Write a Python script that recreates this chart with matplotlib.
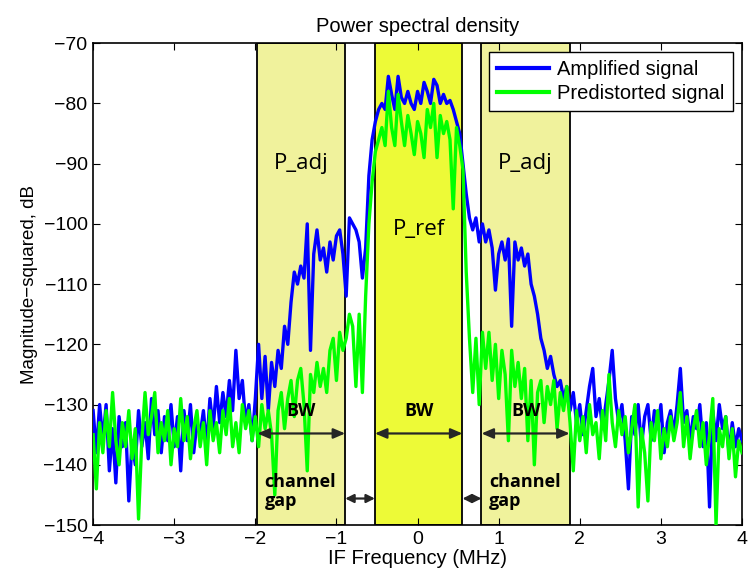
import numpy as np
import matplotlib
matplotlib.use("Agg")
import matplotlib.pyplot as plt

plt.rcParams["font.family"] = ["Liberation Sans", "DejaVu Sans"]
ann_font = ["Open Sans", "DejaVu Sans"]

# power spectral density, 0.04 MHz step from -4 to 4 MHz
amplified_db = [
    -131, -138, -130, -136, -130, -141, -134, -143, -132, -137,
    -133, -146, -136, -140, -131, -137, -133, -139, -129, -135,
    -131, -138, -132, -136, -130, -137, -132, -141, -131, -136,
    -130, -138, -133, -135, -131, -137, -129, -134, -127, -133,
    -128, -132, -126, -131, -121, -129, -126, -133, -130, -136,
    -129,
    -120, -129, -122, -131, -123, -127, -121, -124, -117, -120,
    -113, -108, -110, -107, -109, -100, -121, -105, -101, -106,
    -104, -108, -103, -106, -102, -101, -105, -112, -99, -100,
    -101, -103, -109, -104, -92, -86, -83, -81, -80, -81,
    -75.5, -78.5, -81, -75.5, -79, -80, -78, -80, -81, -78,
    -80, -76.5, -78, -80, -76, -77, -80, -78.5, -80, -79.5,
    -81, -83, -85, -90, -95, -99, -101, -99, -103, -100,
    -103, -101, -104, -111, -105, -103, -106, -102.5, -117, -103,
    -106, -104, -107, -105, -110, -112, -115, -119, -121, -124,
    -122, -125, -127, -126, -129, -127, -131, -128, -133, -130,
    -135, -131, -127, -124, -132, -129, -134, -130, -126, -121,
    -129, -133, -130, -136, -144, -132, -135, -130, -137, -132,
    -130, -136, -131, -134, -130, -138, -133, -131, -135, -130,
    -124, -133, -131, -136, -132, -134, -130, -137, -133, -147,
    -131, -136, -130, -134, -132, -138, -133, -137, -134, -136,
]
predistorted_db = [
    -135, -144, -133, -138, -131, -137, -128, -136, -140, -133,
    -137, -131, -139, -134, -149, -136, -128, -135, -132, -128,
    -138, -133, -136, -131, -140, -134, -137, -129, -136, -132,
    -139, -134, -131, -137, -133, -140, -131, -136, -133, -138,
    -131, -135, -129, -137, -133, -138, -130, -134, -131, -136,
    -132,
    -137, -130, -134, -131, -135, -145, -131, -128, -134, -129,
    -126, -132, -126, -124, -130, -141, -125, -128, -123, -127,
    -124, -128, -121, -119, -126, -118, -121, -119, -115, -117,
    -127, -115, -128, -112, -100, -93, -88, -86, -84, -87,
    -78, -84, -87, -78.5, -83, -87, -82, -85, -88.5, -83,
    -85, -89, -81, -84, -80, -89, -82, -85, -83, -86,
    -97.5, -84, -87, -91, -108, -119, -128, -119, -130, -118,
    -124, -118, -126, -120, -129, -121, -125, -136, -121, -127,
    -123, -129, -124, -136, -126, -140, -128, -126, -133, -127,
    -130, -126, -134, -128, -131, -127, -133, -141, -131, -136,
    -132, -138, -130, -135, -133, -139, -131, -136, -125, -133,
    -137, -131, -135, -132, -138, -134, -130, -147, -134, -138,
    -146, -133, -136, -131, -139, -134, -137, -132, -136, -133,
    -128, -137, -132, -139, -134, -131, -137, -133, -140, -135,
    -129, -150, -134, -137, -132, -139, -134, -142, -136, -138,
]
freq_amp = np.linspace(-4, 4, len(amplified_db))
freq_pre = np.linspace(-4, 4, len(predistorted_db))

# channel bands (MHz)
adj_left = (-1.975, -0.892)
ref_band = (-0.526, 0.554)
adj_right = (0.788, 1.876)

fig = plt.figure(figsize=(7.51, 5.84), dpi=100)
ax = fig.add_axes([0.124, 0.101, 0.864, 0.825])

adj_color = "#f0f29c"
ref_color = "#edfa37"
for lo, hi, c in [(adj_left[0], adj_left[1], adj_color),
                  (ref_band[0], ref_band[1], ref_color),
                  (adj_right[0], adj_right[1], adj_color)]:
    ax.axvspan(lo, hi, facecolor=c, edgecolor="black", lw=1.3, zorder=1)

ax.plot(freq_amp, amplified_db, color="#0000ff", lw=2.4, zorder=3,
        label="Amplified signal")
ax.plot(freq_pre, predistorted_db, color="#00ff00", lw=2.4, zorder=4,
        label="Predistorted signal")

ax.set_xlim(-4, 4)
ax.set_ylim(-150, -70)
ax.set_xticks(np.arange(-4, 5, 1))
ax.set_yticks(np.arange(-150, -69, 10))
ax.tick_params(direction="in", top=True, right=True, length=5, labelsize=14,
               pad=4)
for s in ax.spines.values():
    s.set_linewidth(1.2)

ax.set_title("Power spectral density", fontsize=14.5, pad=8)
ax.set_xlabel("IF Frequency (MHz)", fontsize=14.5, labelpad=1)
ax.set_ylabel("Magnitude\u2212squared, dB", fontsize=13.5, labelpad=4)

# band labels
ax.text(np.mean(adj_left), -90, "P_adj", fontsize=16, family=ann_font,
        ha="center", va="center", zorder=5)
ax.text(np.mean(ref_band), -101, "P_ref", fontsize=16, family=ann_font,
        ha="center", va="center", zorder=5)
ax.text(np.mean(adj_right), -90, "P_adj", fontsize=16, family=ann_font,
        ha="center", va="center", zorder=5)

arrow_kw = dict(arrowstyle="<|-|>,head_length=0.7,head_width=0.3",
                color="#262626", lw=1.6, shrinkA=0, shrinkB=0)
for lo, hi in [adj_left, ref_band, adj_right]:
    ax.annotate("", xy=(lo, -134.8), xytext=(hi, -134.8), arrowprops=arrow_kw, zorder=6)
    ax.text((lo + hi) / 2, -131, "BW", fontsize=13, fontweight="bold", family=ann_font,
            ha="center", va="center", zorder=6)

gap_kw = dict(arrowstyle="<|-|>,head_length=0.5,head_width=0.25",
              color="#262626", lw=1.6, shrinkA=0, shrinkB=0)
ax.annotate("", xy=(adj_left[1], -145.6), xytext=(ref_band[0], -145.6),
            arrowprops=gap_kw, zorder=6)
ax.annotate("", xy=(ref_band[1], -145.6), xytext=(adj_right[0], -145.6),
            arrowprops=gap_kw, zorder=6)
for lo in (adj_left[0], adj_right[0]):
    ax.text(lo + 0.09, -141.3, "channel\ngap", fontsize=13, fontweight="bold",
            family=ann_font, ha="left", va="top", linespacing=1.1, zorder=6)

leg = ax.legend(loc="upper right", fontsize=14.5, frameon=True, fancybox=False,
                edgecolor="black", framealpha=1, borderpad=0.4, handlelength=2.6,
                labelspacing=0.25, handletextpad=0.4, borderaxespad=0.45)
leg.get_frame().set_linewidth(1.0)
for line in leg.get_lines():
    line.set_linewidth(3)
leg.set_zorder(10)

fig.savefig("out.png", dpi=100)
